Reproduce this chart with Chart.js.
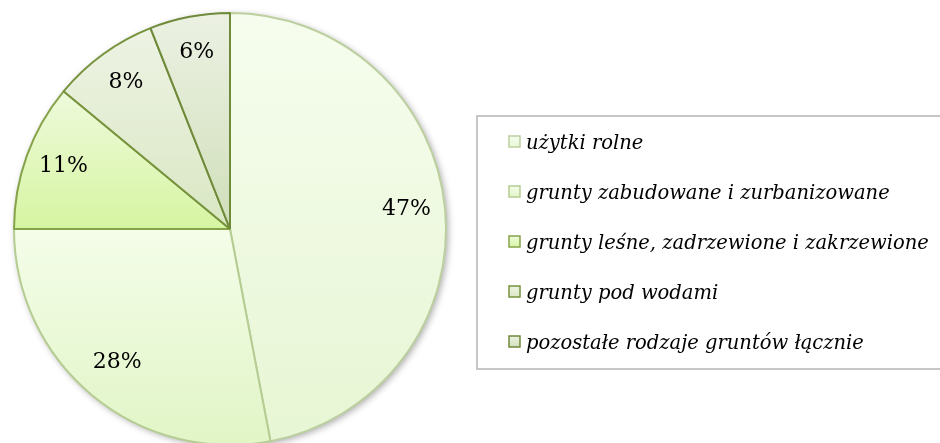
<!DOCTYPE html>
<html>
<head>
<meta charset="utf-8">
<script src="https://cdn.jsdelivr.net/npm/chart.js@4"></script>
<style>
    html, body { margin: 0; padding: 0; background: #fff; width: 940px; height: 443px; overflow: hidden; }
    #wrap { position: absolute; left: 0; top: 0; width: 940px; height: 460px; }
</style>
</head>
<body>
<div id="wrap"><canvas id="landChart" width="940" height="460"></canvas></div>
<script>
// --- données ---
const categories = [
    'użytki rolne',
    'grunty zabudowane i zurbanizowane',
    'grunty leśne, zadrzewione i zakrzewione',
    'grunty pod wodami',
    'pozostałe rodzaje gruntów łącznie'
];
const shares = [47, 28, 11, 8, 6];

// --- couleurs (dégradés verticaux par part) ---
const gradTop = ['#f6fdee', '#f4fde9', '#eefadb', '#eef3e4', '#ecf1e3'];
const gradBottom = ['#e7f6d4', '#e1f5c6', '#d6f5a2', '#d9e7c3', '#d0dfba'];
const borderColors = ['#bccf9f', '#b5cc93', '#86a34a', '#77933c', '#6f8a38'];

const total = shares.reduce((a, b) => a + b, 0);

function inArc(a, start, end) {
    return (a >= start && a <= end) || (a - 2 * Math.PI >= start && a - 2 * Math.PI <= end);
}

// Dégradé sur la hauteur de chaque part
function sliceGradient(context) {
    const chart = context.chart;
    const area = chart.chartArea;
    const i = context.dataIndex;
    if (!area) return gradBottom[i];
    const cx = (area.left + area.right) / 2;
    const cy = (area.top + area.bottom) / 2;
    const r = Math.min(area.right - area.left, area.bottom - area.top) / 2;
    let before = 0;
    for (let k = 0; k < i; k++) before += shares[k];
    const start = -Math.PI / 2 + 2 * Math.PI * before / total;
    const end = start + 2 * Math.PI * shares[i] / total;
    const ys = [cy, cy + r * Math.sin(start), cy + r * Math.sin(end)];
    if (inArc(Math.PI / 2, start, end)) ys.push(cy + r);
    if (inArc(-Math.PI / 2, start, end) || inArc(3 * Math.PI / 2, start, end)) ys.push(cy - r);
    const g = chart.ctx.createLinearGradient(0, Math.min(...ys), 0, Math.max(...ys));
    g.addColorStop(0, gradTop[i]);
    g.addColorStop(1, gradBottom[i]);
    return g;
}

// Ombre portée sous le camembert
const pieShadow = {
    id: 'pieShadow',
    beforeDatasetsDraw(chart) {
        const arc = chart.getDatasetMeta(0).data[0];
        if (!arc) return;
        const { x, y, outerRadius } = arc.getProps(['x', 'y', 'outerRadius'], true);
        const ctx = chart.ctx;
        ctx.save();
        ctx.shadowColor = 'rgba(0,0,0,0.35)';
        ctx.shadowBlur = 7;
        ctx.shadowOffsetX = 2;
        ctx.shadowOffsetY = 2;
        ctx.beginPath();
        ctx.arc(x, y, outerRadius, 0, Math.PI * 2);
        ctx.fillStyle = '#f2fbe8';
        ctx.fill();
        ctx.restore();
    }
};

// Pourcentages dans les parts
const pctLabels = {
    id: 'pctLabels',
    afterDatasetsDraw(chart) {
        const ctx = chart.ctx;
        ctx.save();
        ctx.font = '22px "DejaVu Serif"';
        ctx.fillStyle = '#000';
        ctx.textAlign = 'center';
        ctx.textBaseline = 'middle';
        chart.getDatasetMeta(0).data.forEach((arc, i) => {
            const p = arc.getProps(['x', 'y', 'startAngle', 'endAngle', 'outerRadius'], true);
            const mid = (p.startAngle + p.endAngle) / 2;
            const d = p.outerRadius * 0.82;
            const txt = Math.round(shares[i] / total * 100) + '%';
            ctx.fillText(txt, p.x + Math.cos(mid) * d, p.y + Math.sin(mid) * d - 3);
        });
        ctx.restore();
    }
};

// Légende encadrée à droite
const boxLegend = {
    id: 'boxLegend',
    afterDraw(chart) {
        const ctx = chart.ctx;
        ctx.save();
        ctx.strokeStyle = '#c6c6c6';
        ctx.lineWidth = 2;
        ctx.strokeRect(477, 116, 500, 253);
        ctx.font = 'italic 19.5px "DejaVu Serif"';
        ctx.textBaseline = 'alphabetic';
        categories.forEach((label, i) => {
            const cy = 142 + i * 50;
            const g = ctx.createLinearGradient(0, cy - 6, 0, cy + 6);
            g.addColorStop(0, gradTop[i]);
            g.addColorStop(1, gradBottom[i]);
            ctx.fillStyle = g;
            ctx.fillRect(509, cy - 6, 11, 11);
            ctx.strokeStyle = borderColors[i];
            ctx.lineWidth = 1.5;
            ctx.strokeRect(509, cy - 6, 11, 11);
            ctx.fillStyle = '#000';
            ctx.fillText(label, 526, cy + 7);
        });
        ctx.restore();
    }
};

new Chart(document.getElementById('landChart'), {
    type: 'pie',
    data: {
        labels: categories,
        datasets: [{
            data: shares,
            backgroundColor: sliceGradient,
            borderColor: borderColors,
            borderWidth: 2
        }]
    },
    options: {
        responsive: false,
        animation: false,
        layout: { padding: { left: 13, right: 493, top: 12, bottom: 14 } },
        plugins: {
            legend: { display: false },
            tooltip: { enabled: false }
        }
    },
    plugins: [pieShadow, pctLabels, boxLegend]
});
</script>
</body>
</html>
